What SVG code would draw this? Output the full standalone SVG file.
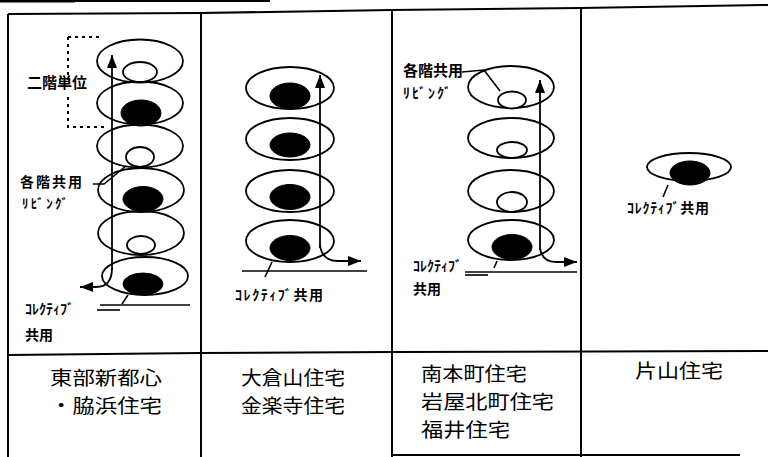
<svg xmlns="http://www.w3.org/2000/svg" width="768" height="457" viewBox="0 0 768 457">
<defs>
<style>
.frame{fill:none;stroke:#000;stroke-width:2}
.ell{fill:none;stroke:#000;stroke-width:1.8}
.wc{fill:#fff;stroke:#000;stroke-width:1.8}
.bc{fill:#000;stroke:#000;stroke-width:1}
.ln{fill:none;stroke:#000;stroke-width:1.6}
.arr{fill:none;stroke:#000;stroke-width:1.8}
.dot{fill:none;stroke:#000;stroke-width:2;stroke-dasharray:3 4}
.lbl{font-family:"Noto Sans CJK JP","Noto Sans",sans-serif;font-size:15px;font-weight:700;fill:#000}
.kn{font-family:"Noto Sans CJK JP","Noto Sans",sans-serif;font-size:14px;font-weight:700;fill:#000}
.big{font-family:"Noto Sans CJK JP","Noto Sans",sans-serif;font-size:19px;fill:#000}
</style>
<marker id="ah" markerUnits="userSpaceOnUse" markerWidth="14" markerHeight="10" refX="13" refY="5" orient="auto">
<path d="M0,0 L13,5 L0,10 Z" fill="#000"/>
</marker>
</defs>
<rect width="768" height="457" fill="#fff"/>

<g id="table">
<line x1="0" y1="1" x2="75" y2="1" stroke="#000" stroke-width="3"/>
<line x1="75" y1="1" x2="270" y2="1" class="frame"/>
<polyline points="8,14 200,13 392,10 580,8 768,5" class="frame"/>
<line x1="8" y1="14" x2="8" y2="457" class="frame"/>
<line x1="201" y1="13" x2="201" y2="457" class="frame"/>
<line x1="392" y1="10" x2="392" y2="457" class="frame"/>
<line x1="581" y1="8" x2="581" y2="457" class="frame"/>
<polyline points="8,355 200,353 392,352 768,351" class="frame"/>
<line x1="392" y1="455" x2="740" y2="455" class="frame"/>
</g>

<g id="col1">
<ellipse cx="140" cy="61" rx="43" ry="21.5" class="ell"/>
<ellipse cx="140" cy="103" rx="43" ry="21.5" class="ell"/>
<ellipse cx="140" cy="146" rx="43" ry="21.5" class="ell"/>
<ellipse cx="141" cy="190" rx="43" ry="22" class="ell"/>
<ellipse cx="141" cy="233" rx="43" ry="22" class="ell"/>
<ellipse cx="145" cy="276" rx="43" ry="19" class="ell"/>
<ellipse cx="140" cy="72" rx="17" ry="10" class="wc"/>
<ellipse cx="141" cy="113" rx="20" ry="13" class="bc"/>
<ellipse cx="140" cy="157" rx="14" ry="10" class="wc"/>
<ellipse cx="143" cy="199" rx="20" ry="12.5" class="bc"/>
<ellipse cx="141" cy="245" rx="14" ry="9" class="wc"/>
<ellipse cx="143" cy="284" rx="20" ry="11" class="bc"/>
<polyline points="68,37 103,37" class="dot"/>
<polyline points="68,37 68,80" class="dot"/>
<polyline points="68,97 68,127 104,127" class="dot"/>
<text x="27" y="88" class="lbl">二階単位</text>
<text x="20" y="187" class="kn" textLength="62">各階共用</text>
<text x="22" y="208" class="kn" style="font-size:13px" textLength="46">ﾘﾋﾞﾝｸﾞ</text>
<polyline points="93,184 104,184 126,166" class="ln"/>
<line x1="100" y1="305" x2="190" y2="305" class="ln"/>
<line x1="97" y1="310" x2="120" y2="310" class="ln"/>
<line x1="128" y1="295" x2="122" y2="304" class="ln"/>
<text x="25" y="314" class="kn">ｺﾚｸﾃｨﾌﾞ</text>
<text x="25" y="340" class="kn">共用</text>
</g>

<g id="col2">
<ellipse cx="290" cy="88" rx="44" ry="21" class="ell"/>
<ellipse cx="290" cy="139" rx="44" ry="21" class="ell"/>
<ellipse cx="290" cy="191" rx="44" ry="21" class="ell"/>
<ellipse cx="290" cy="241" rx="44" ry="21" class="ell"/>
<ellipse cx="290" cy="96" rx="20" ry="13" class="bc"/>
<ellipse cx="290" cy="145" rx="20" ry="12" class="bc"/>
<ellipse cx="290" cy="197" rx="20" ry="12.5" class="bc"/>
<ellipse cx="290" cy="248" rx="20" ry="12.5" class="bc"/>
<line x1="242" y1="271" x2="367" y2="271" class="ln"/>
<line x1="272" y1="262" x2="265" y2="277" class="ln"/>
<text x="235" y="300" class="kn" textLength="88">ｺﾚｸﾃｨﾌﾞ共用</text>
</g>

<g id="col3">
<ellipse cx="511" cy="87" rx="43" ry="21" class="ell"/>
<ellipse cx="511" cy="138" rx="43" ry="20" class="ell"/>
<ellipse cx="511" cy="191" rx="43" ry="21" class="ell"/>
<ellipse cx="511" cy="240" rx="43" ry="20" class="ell"/>
<ellipse cx="512" cy="100" rx="14" ry="8.5" class="wc"/>
<ellipse cx="512" cy="150" rx="15" ry="8" class="wc"/>
<ellipse cx="512" cy="202" rx="15" ry="10" class="wc"/>
<ellipse cx="512" cy="247" rx="20" ry="12.5" class="bc"/>
<text x="403" y="76" class="lbl">各階共用</text>
<text x="403" y="98" class="kn" textLength="48">ﾘﾋﾞﾝｸﾞ</text>
<polyline points="462,72 484,70 500,91" class="ln"/>
<line x1="465" y1="272" x2="577" y2="272" class="ln"/>
<line x1="465" y1="275" x2="488" y2="275" class="ln"/>
<line x1="497" y1="261" x2="494" y2="268" class="ln"/>
<text x="413" y="271" class="kn">ｺﾚｸﾃｨﾌﾞ</text>
<text x="413" y="294" class="kn">共用</text>
</g>

<g id="col4">
<ellipse cx="689" cy="167" rx="42" ry="14" class="ell"/>
<ellipse cx="690" cy="173" rx="20" ry="12" class="bc"/>
<line x1="668" y1="185" x2="663" y2="197" class="ln"/>
<text x="627" y="213" class="kn" textLength="82">ｺﾚｸﾃｨﾌﾞ共用</text>
</g>

<g id="connectors">
<path d="M112,270 L112,55" class="arr" marker-end="url(#ah)"/>
<path d="M112,268 Q112,287 96,287 L80,287" class="arr" marker-end="url(#ah)"/>
<path d="M320,248 L320,75" class="arr" marker-end="url(#ah)"/>
<path d="M320,245 Q322,261 338,261 L361,261" class="arr" marker-end="url(#ah)"/>
<path d="M540,250 L540,80" class="arr" marker-end="url(#ah)"/>
<path d="M540,248 Q542,262 556,262 L577,262" class="arr" marker-end="url(#ah)"/>
</g>

<g id="labels">
<text x="50" y="385" class="big" textLength="112" lengthAdjust="spacingAndGlyphs">東部新都心</text>
<text x="50" y="413" class="big" textLength="112" lengthAdjust="spacingAndGlyphs">・脇浜住宅</text>
<text x="241" y="385" class="big" textLength="104" lengthAdjust="spacingAndGlyphs">大倉山住宅</text>
<text x="241" y="413" class="big" textLength="104" lengthAdjust="spacingAndGlyphs">金楽寺住宅</text>
<text x="421" y="381" class="big" textLength="106" lengthAdjust="spacingAndGlyphs">南本町住宅</text>
<text x="421" y="409" class="big" textLength="133" lengthAdjust="spacingAndGlyphs">岩屋北町住宅</text>
<text x="421" y="437" class="big" textLength="89" lengthAdjust="spacingAndGlyphs">福井住宅</text>
<text x="635" y="378" class="big" textLength="88" lengthAdjust="spacingAndGlyphs">片山住宅</text>
</g>
</svg>
